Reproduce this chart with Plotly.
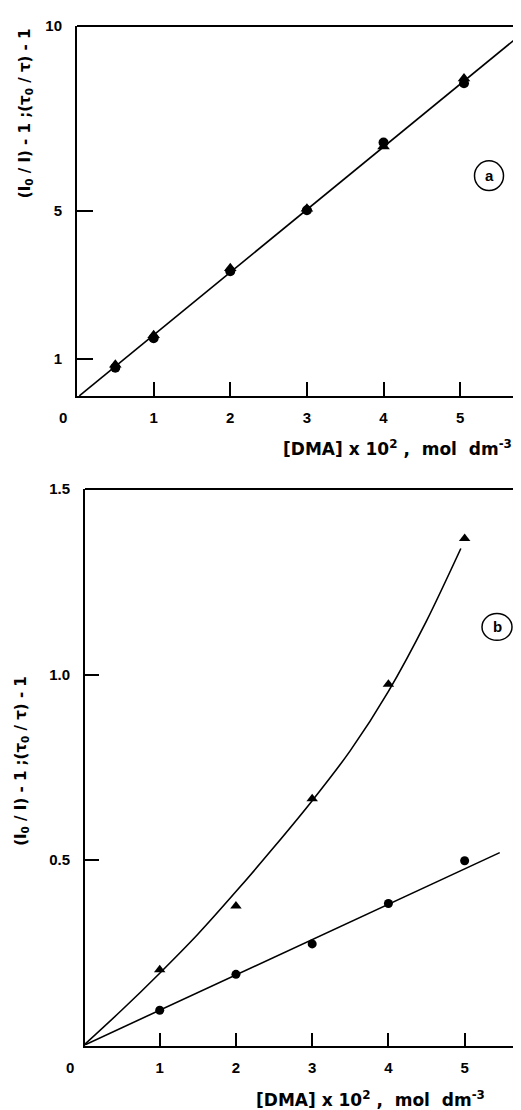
import plotly.graph_objects as go

# the page body has an 8px margin, so the figure is drawn 8px in and 8px smaller
OFF = 8
W, H = 521 - OFF, 1110 - OFF

# panel (a): (I0/I)-1 and (tau0/tau)-1 vs [DMA] x 10^2
conc_a = [0.5, 1.0, 2.0, 3.0, 4.0, 5.05]
i_ratio_a = [0.76, 1.56, 3.37, 5.02, 6.85, 8.45]
tau_ratio_a = [0.84, 1.64, 3.45, 5.06, 6.74, 8.58]
fit_x_a = [0.03, 5.71]
fit_y_a = [0.0, 9.63]

# panel (b)
conc_b = [1, 2, 3, 4, 5]
i_ratio_b = [0.095, 0.192, 0.274, 0.383, 0.498]
tau_ratio_b = [0.204, 0.376, 0.665, 0.974, 1.367]
fit_x_b = [0.0, 5.46]
fit_y_b = [0.0, 0.52]
curve_x_b = [0, 0.5, 1, 1.5, 2, 2.5, 3, 3.5, 4, 4.5, 4.95]
curve_y_b = [0, 0.095, 0.195, 0.30, 0.415, 0.535, 0.66, 0.795, 0.955, 1.145, 1.34]

x_ticks = [1, 2, 3, 4, 5]
y_ticks_a = [1, 5, 10]
y_ticks_b = [0.5, 1.0, 1.5]
y_ticktext_b = ["0.5", "1.0", "1.5"]

FONT = "Liberation Sans"
TITLE_FONT = "DejaVu Sans"
NB = "\u00a0"


def px(x):
    return (x - OFF) / W


def py(y):
    return 1 - (y - OFF) / H


fig = go.Figure()

# panel a traces
fig.add_trace(go.Scatter(x=fit_x_a, y=fit_y_a, mode="lines",
                         line=dict(color="black", width=1.6),
                         xaxis="x", yaxis="y"))
fig.add_trace(go.Scatter(x=conc_a, y=tau_ratio_a, mode="markers",
                         marker=dict(symbol="triangle-up", size=11, color="black"),
                         xaxis="x", yaxis="y"))
fig.add_trace(go.Scatter(x=conc_a, y=i_ratio_a, mode="markers",
                         marker=dict(symbol="circle", size=10, color="black"),
                         xaxis="x", yaxis="y"))

# panel b traces
fig.add_trace(go.Scatter(x=curve_x_b, y=curve_y_b, mode="lines",
                         line=dict(color="black", width=1.6, shape="spline", smoothing=0.8),
                         xaxis="x2", yaxis="y2"))
fig.add_trace(go.Scatter(x=fit_x_b, y=fit_y_b, mode="lines",
                         line=dict(color="black", width=1.6),
                         xaxis="x2", yaxis="y2"))
fig.add_trace(go.Scatter(x=conc_b, y=tau_ratio_b, mode="markers",
                         marker=dict(symbol="triangle-up", size=10, color="black"),
                         xaxis="x2", yaxis="y2"))
fig.add_trace(go.Scatter(x=conc_b, y=i_ratio_b, mode="markers",
                         marker=dict(symbol="circle", size=9, color="black"),
                         xaxis="x2", yaxis="y2"))

tickfont = dict(family=FONT, size=15, color="black", weight="bold")
axis_style = dict(showline=True, linecolor="black", linewidth=2,
                  ticks="inside", tickcolor="black", tickwidth=2,
                  showgrid=False, zeroline=False, tickfont=tickfont)

fig.update_layout(
    width=W, height=H, autosize=False,
    margin=dict(l=0, r=0, t=0, b=0),
    paper_bgcolor="white", plot_bgcolor="white",
    showlegend=False,
    xaxis=dict(axis_style, domain=[px(77), 1], range=[0, 5.90 - OFF / 75.2],
               tickvals=x_ticks, ticklen=14, ticklabelstandoff=7, anchor="y"),
    yaxis=dict(axis_style, domain=[py(390), py(17)], range=[0, 10],
               tickvals=y_ticks_a, ticklen=16, ticklabelstandoff=10, anchor="x"),
    xaxis2=dict(axis_style, domain=[px(85), 1], range=[0.02, 5.846 - OFF / 74.85],
                tickvals=x_ticks, ticklen=13, ticklabelstandoff=7, anchor="y2"),
    yaxis2=dict(axis_style, domain=[py(1045), py(484)], range=[0, 1.5],
                tickvals=y_ticks_b, ticktext=y_ticktext_b, ticklen=14,
                ticklabelstandoff=10, anchor="x2"),
)

# top borders (no right border in the original)
for xr, yr in [("x domain", "y domain"), ("x2 domain", "y2 domain")]:
    fig.add_shape(type="line", xref=xr, yref=yr, x0=0, x1=1, y0=1, y1=1,
                  line=dict(color="black", width=2))


def label(x, y, text, size=15, angle=0, xanchor="center", family=FONT):
    fig.add_annotation(x=px(x), y=py(y), xref="paper", yref="paper",
                       xanchor=xanchor, yanchor="middle", textangle=angle,
                       text=text, showarrow=False,
                       font=dict(family=family, size=size, color="black"))


# circled panel letters
for cx, cy, w, h, letter in [(489, 168, 29, 30, "a"), (497, 623, 30, 27, "b")]:
    fig.add_shape(type="circle", xref="paper", yref="paper",
                  x0=px(cx - w / 2), x1=px(cx + w / 2),
                  y0=py(cy + h / 2), y1=py(cy - h / 2),
                  line=dict(color="black", width=1.5))
    label(cx, cy, "<b>" + letter + "</b>", size=15)

# origin labels
label(63, 412, "<b>0</b>")
label(70, 1067, "<b>0</b>")

# axis titles
x_title = ("<b>[DMA]" + NB + "x" + NB + "10<sup>2</sup>" + NB + "," + NB * 2
           + "mol" + NB * 2 + "dm<sup>-3</sup></b>")
y_title = ("<b>(I<sub>0</sub>" + NB + "/" + NB + "I)" + NB + "-" + NB + "1" + NB
           + ";(τ<sub>0</sub>" + NB + "/" + NB + "τ)" + NB + "-" + NB + "1</b>")
label(514, 443, x_title, size=17, xanchor="right", family=TITLE_FONT)
label(487, 1099, x_title, size=17, xanchor="right", family=TITLE_FONT)
label(25, 105, y_title, size=15, angle=-90, family=TITLE_FONT)
label(22, 758, y_title, size=15, angle=-90, family=TITLE_FONT)

fig.write_html("out.html")
